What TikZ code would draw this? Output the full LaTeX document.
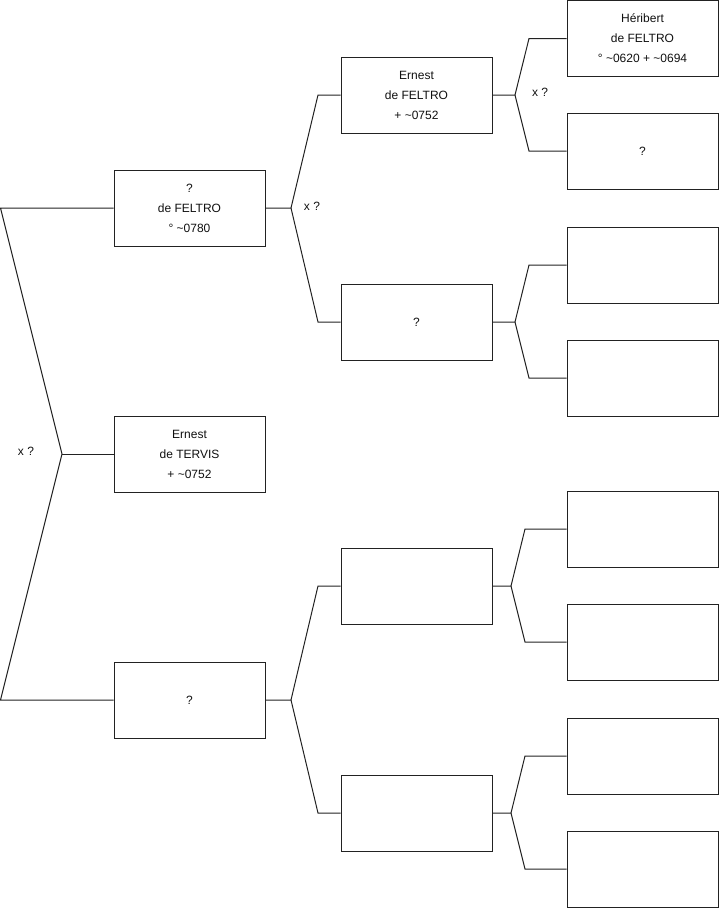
\documentclass[tikz,border=0pt]{standalone}
\usepackage{fontspec}
\setmainfont{Liberation Sans}
\usetikzlibrary{positioning}
\definecolor{ink}{HTML}{111111}
\definecolor{edge}{HTML}{222222}
\definecolor{paper}{HTML}{FFFFFF}
\tikzset{
  person/.style={
    rectangle,
    draw=edge,
    line width=1pt,
    fill=paper,
    align=center,
    minimum width=151pt,
    minimum height=76pt,
    inner sep=0pt,
    text=ink,
    font=\fontsize{12}{20}\selectfont
  },
  branch/.style={
    draw=edge,
    line width=1pt
  },
  marriage/.style={
    font=\fontsize{12}{14}\selectfont,
    text=ink,
    inner sep=1pt
  }
}

\begin{document}
\begin{tikzpicture}[x=1pt, y=-1pt]
  \useasboundingbox (0,0) rectangle (719,908);

  %===========================================================
  % First generation (left column)
  %===========================================================
  \node[person] (g1a) at (189.5, 208) {?\\de FELTRO\\° \textasciitilde0780};
  \node[person] (g1b) at (189.5, 454) {Ernest\\de TERVIS\\+ \textasciitilde0752};
  \node[person] (g1c) at (189.5, 700) {?};

  %===========================================================
  % Second generation (middle column)
  %===========================================================
  \node[person] (g2a) at (416.5,  95) {Ernest\\de FELTRO\\+ \textasciitilde0752};
  \node[person] (g2b) at (416.5, 322) {?};
  \node[person] (g2c) at (416.5, 586) {};
  \node[person] (g2d) at (416.5, 813) {};

  %===========================================================
  % Third generation (right column)
  %===========================================================
  \node[person] (g3a) at (642.5,  38.5) {Héribert\\de FELTRO\\° \textasciitilde0620 + \textasciitilde0694};
  \node[person] (g3b) at (642.5, 151) {?};
  \node[person] (g3c) at (642.5, 265) {};
  \node[person] (g3d) at (642.5, 378) {};
  \node[person] (g3e) at (642.5, 529) {};
  \node[person] (g3f) at (642.5, 642) {};
  \node[person] (g3g) at (642.5, 756) {};
  \node[person] (g3h) at (642.5, 869) {};

  %===========================================================
  % Root fork -- the two parents of the first column
  %===========================================================
  \coordinate (rootTop)  at (0.5, 208);
  \coordinate (rootFork) at (62, 454);
  \coordinate (rootBot)  at (0.5, 700);
  \draw[branch] (g1a.west) -- (rootTop) -- (rootFork) -- (rootBot) -- (g1c.west);
  \draw[branch] (rootFork) -- (g1b.west);
  \node[marriage] (xroot) at (26, 451) {x ?};

  %===========================================================
  % Forks from the first column to the second
  %===========================================================
  \coordinate (fA)   at (291, 208);
  \coordinate (fAup) at (318,  95);
  \coordinate (fAdn) at (318, 322);
  \draw[branch] (g1a.east) -- (fA) -- (fAup) -- (g2a.west);
  \draw[branch] (fA) -- (fAdn) -- (g2b.west);
  \node[marriage] (xA) at (312, 206) {x ?};

  \coordinate (fC)   at (291, 700);
  \coordinate (fCup) at (318, 586);
  \coordinate (fCdn) at (318, 813);
  \draw[branch] (g1c.east) -- (fC) -- (fCup) -- (g2c.west);
  \draw[branch] (fC) -- (fCdn) -- (g2d.west);

  %===========================================================
  % Forks from the second column to the third
  %===========================================================
  \coordinate (f2a)   at (515,  95);
  \coordinate (f2aup) at (529,  38.5);
  \coordinate (f2adn) at (529, 151);
  \draw[branch] (g2a.east) -- (f2a) -- (f2aup) -- (g3a.west);
  \draw[branch] (f2a) -- (f2adn) -- (g3b.west);
  \node[marriage] (x2a) at (540, 92) {x ?};

  \coordinate (f2b)   at (515, 322);
  \coordinate (f2bup) at (529, 265);
  \coordinate (f2bdn) at (529, 378);
  \draw[branch] (g2b.east) -- (f2b) -- (f2bup) -- (g3c.west);
  \draw[branch] (f2b) -- (f2bdn) -- (g3d.west);

  \coordinate (f2c)   at (511, 586);
  \coordinate (f2cup) at (525, 529);
  \coordinate (f2cdn) at (525, 642);
  \draw[branch] (g2c.east) -- (f2c) -- (f2cup) -- (g3e.west);
  \draw[branch] (f2c) -- (f2cdn) -- (g3f.west);

  \coordinate (f2d)   at (511, 813);
  \coordinate (f2dup) at (525, 756);
  \coordinate (f2ddn) at (525, 869);
  \draw[branch] (g2d.east) -- (f2d) -- (f2dup) -- (g3g.west);
  \draw[branch] (f2d) -- (f2ddn) -- (g3h.west);

\end{tikzpicture}
\end{document}
